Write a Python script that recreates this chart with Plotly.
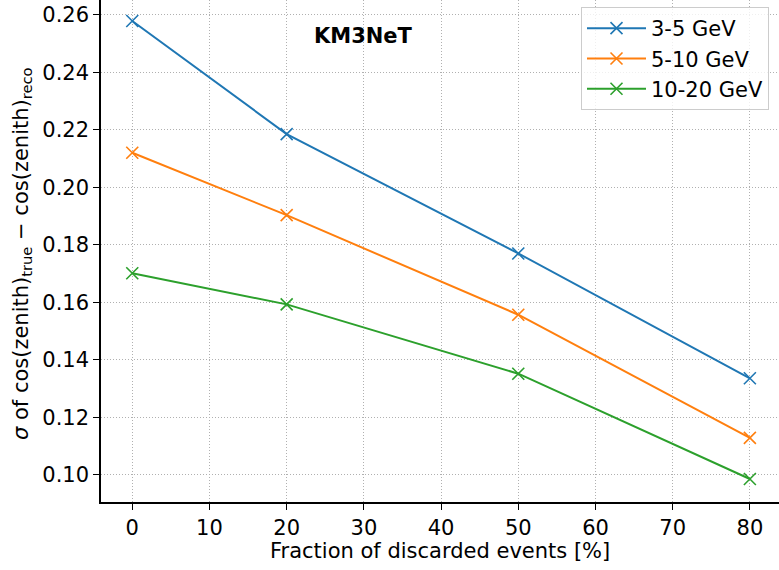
import plotly.graph_objects as go

fraction = [0, 20, 50, 80]
series_names = ["3-5 GeV", "5-10 GeV", "10-20 GeV"]
sigma_3_5 = [0.2578, 0.2185, 0.1770, 0.1336]
sigma_5_10 = [0.2120, 0.1903, 0.1557, 0.1129]
sigma_10_20 = [0.1701, 0.1593, 0.1352, 0.0986]
colors = ["#1f77b4", "#ff7f0e", "#2ca02c"]
x_ticks = [0, 10, 20, 30, 40, 50, 60, 70, 80]
y_ticks = [0.10, 0.12, 0.14, 0.16, 0.18, 0.20, 0.22, 0.24, 0.26]

FONT = "DejaVu Sans"
FS = 21
W, H = 779, 570
L, B, T, R = 101, 68, 0, 0
PW, PH = W - L - R, H - T - B

fig = go.Figure()
for name, vals, c in zip(series_names, [sigma_3_5, sigma_5_10, sigma_10_20], colors):
    fig.add_trace(go.Scatter(
        x=fraction, y=vals, name=name, mode="lines+markers", legendgroup=name,
        line=dict(color=c, width=2),
        marker=dict(symbol="x-thin", size=12, line=dict(color=c, width=1.6)),
    ))

fig.update_layout(
    width=W, height=H,
    margin=dict(l=L, r=R, t=T, b=B, pad=0, autoexpand=False),
    paper_bgcolor="white", plot_bgcolor="white",
    font=dict(family=FONT, size=FS, color="black"),
    showlegend=True,
    legend=dict(
        x=(581 - L) / PW, y=1 - 7 / PH, xanchor="left", yanchor="top",
        bgcolor="rgba(255,255,255,0.8)", bordercolor="#cccccc", borderwidth=1,
        font=dict(family=FONT, size=FS),
        itemwidth=59, tracegroupgap=0,
    ),
    annotations=[
        dict(text="<b>KM3NeT</b>", x=30, y=0.2525, xref="x", yref="y",
             showarrow=False, font=dict(family=FONT, size=FS, color="black"),
             xanchor="center", yanchor="middle"),
        dict(text="<i>σ</i> of cos(zenith)<sub>true</sub> − cos(zenith)<sub>reco</sub>",
             x=(22 - L) / PW, y=1 - 254 / PH, xref="paper", yref="paper",
             showarrow=False, textangle=-90, font=dict(family=FONT, size=FS, color="black"),
             xanchor="center", yanchor="middle"),
        dict(text="Fraction of discarded events [%]",
             x=(440 - L) / PW, y=-(551 - PH) / PH, xref="paper", yref="paper",
             showarrow=False, font=dict(family=FONT, size=FS, color="black"),
             xanchor="center", yanchor="middle"),
    ],
)

grid = dict(showgrid=True, gridcolor="#b0b0b0", griddash="1px,2px", gridwidth=1)
fig.update_xaxes(
    range=[-4.05, 83.77], tickvals=x_ticks, ticktext=[str(v) for v in x_ticks],
    showline=True, linecolor="black", linewidth=1.5, mirror=False,
    ticks="outside", ticklen=6, tickwidth=1.3, tickcolor="black",
    zeroline=False, automargin=False, **grid,
)
fig.update_yaxes(
    range=[0.0906, 0.2651], tickvals=y_ticks, ticktext=[f"{v:.2f}" for v in y_ticks],
    showline=True, linecolor="black", linewidth=1.5, mirror=False,
    ticks="outside", ticklen=6, tickwidth=1.3, tickcolor="black",
    zeroline=False, automargin=False, **grid,
)

fig.write_html(
    "out.html",
    config={"displayModeBar": False},
    post_script="document.body.style.margin='0';document.body.style.padding='0';"
                "document.body.style.overflow='hidden';",
)
